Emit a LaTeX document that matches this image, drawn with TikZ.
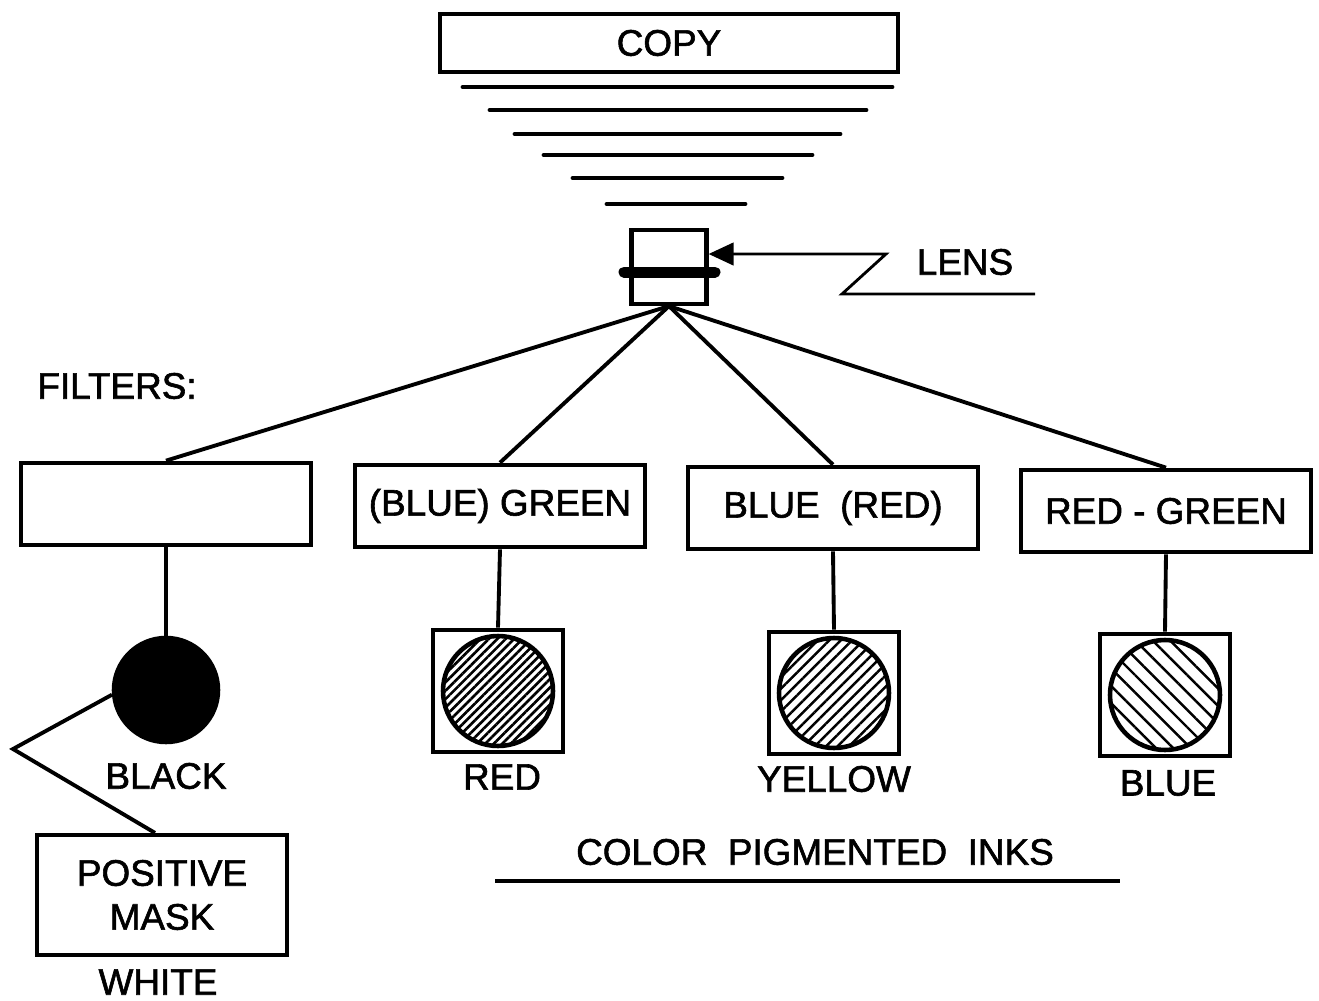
\documentclass[tikz,border=0pt]{standalone}
\usepackage{fontspec}
\setmainfont{Liberation Sans}[BoldFont=Liberation Sans, BoldFeatures={FakeBold=1.6}]
\usetikzlibrary{arrows.meta,patterns.meta}
\tikzset{
  box/.style={draw=black, line width=2.4pt, rectangle, minimum width=5.8cm, minimum height=1.65cm, align=center, inner sep=2pt},
  inkbox/.style={draw=black, line width=2.4pt, rectangle, minimum width=2.6cm, minimum height=2.45cm},
  ink/.style={draw=black, line width=2.6pt, circle, minimum size=2.2cm, inner sep=0pt},
  link/.style={line width=2.2pt, draw=black},
  pointer/.style={-{Triangle[length=0.5cm,width=0.45cm]}, line width=1.6pt},
  rays/.style={line width=2.8pt, line cap=round}
}

\begin{document}
\begin{tikzpicture}[x=0.02cm, y=-0.02cm, font=\fontsize{21}{25}\selectfont\bfseries]
  \useasboundingbox (0,0) rectangle (1319,1001);
  % copy and light rays
  \node[box, minimum width=9.16cm, minimum height=1.16cm] (copy) at (669,43) {COPY};
  \foreach \y/\xa/\xb in {87/463/892, 110/490/866, 134/515/840, 155/544/812, 178/573/782, 204/607/745}
    \draw[rays] (\xa,\y) -- (\xb,\y);
  % lens
  \node[draw, line width=2.4pt, minimum width=1.5cm, minimum height=1.48cm, inner sep=0pt] (lens) at (669,267) {};
  \draw[line width=0.22cm, line cap=round] (624,272) -- (715,272);
  \node (lenstag) at (965,262) {LENS};
  \coordinate (bend1) at (886,254);
  \coordinate (bend2) at (842,294);
  \coordinate (tail) at (1035,294);
  \draw[pointer] (tail) -- (bend2) -- (bend1) -- (lens.east |- bend1);
  % filters
  \node (filterstag) at (117,386) {FILTERS:};
  \node[box] (plain) at (166,504) {};
  \node[box] (bgreen) at (500,506) {(BLUE) GREEN};
  \node[box] (bred) at (833,508) {BLUE\ \ (RED)};
  \node[box] (rgreen) at (1166,511) {RED - GREEN};
  \foreach \f in {plain, bgreen, bred, rgreen}
    \draw[link] (lens.south) -- (\f.north);
  % inks
  \node[ink, fill=black, minimum size=2.08cm] (blackink) at (166,690) {};
  \node[inkbox] (redbox) at (498,691) {};
  \node[ink, pattern={Lines[angle=45,distance=3.4pt,line width=1.5pt]}] (redink) at (redbox) {};
  \node[inkbox] (yellowbox) at (834,693) {};
  \node[ink, pattern={Lines[angle=45,distance=4.6pt,line width=1.4pt]}] (yellowink) at (yellowbox) {};
  \node[inkbox] (bluebox) at (1165,695) {};
  \node[ink, pattern={Lines[angle=-45,distance=7pt,line width=1.4pt]}] (blueink) at (bluebox) {};
  \draw[link] (plain.south) -- (blackink.north);
  \draw[link] (bgreen.south) -- (redbox.north);
  \draw[link] (bred.south) -- (yellowbox.north);
  \draw[link] (rgreen.south) -- (bluebox.north);
  \node (blacktag) at (166,776) {BLACK};
  \node (redtag) at (502,777) {RED};
  \node (yellowtag) at (834,779) {YELLOW};
  \node (bluetag) at (1168,783) {BLUE};
  \node (inkstag) at (815,852) {COLOR\ \ PIGMENTED\ \ INKS};
  \draw[link] (495,881) -- (1120,881);
  % mask
  \node[box, minimum width=5cm, minimum height=2.4cm] (mask) at (162,895) {POSITIVE\\MASK};
  \node (whitetag) at (158,982) {WHITE};
  \coordinate (kink) at (13,749);
  \draw[link] (blackink.185) -- (kink) -- ([xshift=-0.14cm]mask.north);
\end{tikzpicture}
\end{document}
